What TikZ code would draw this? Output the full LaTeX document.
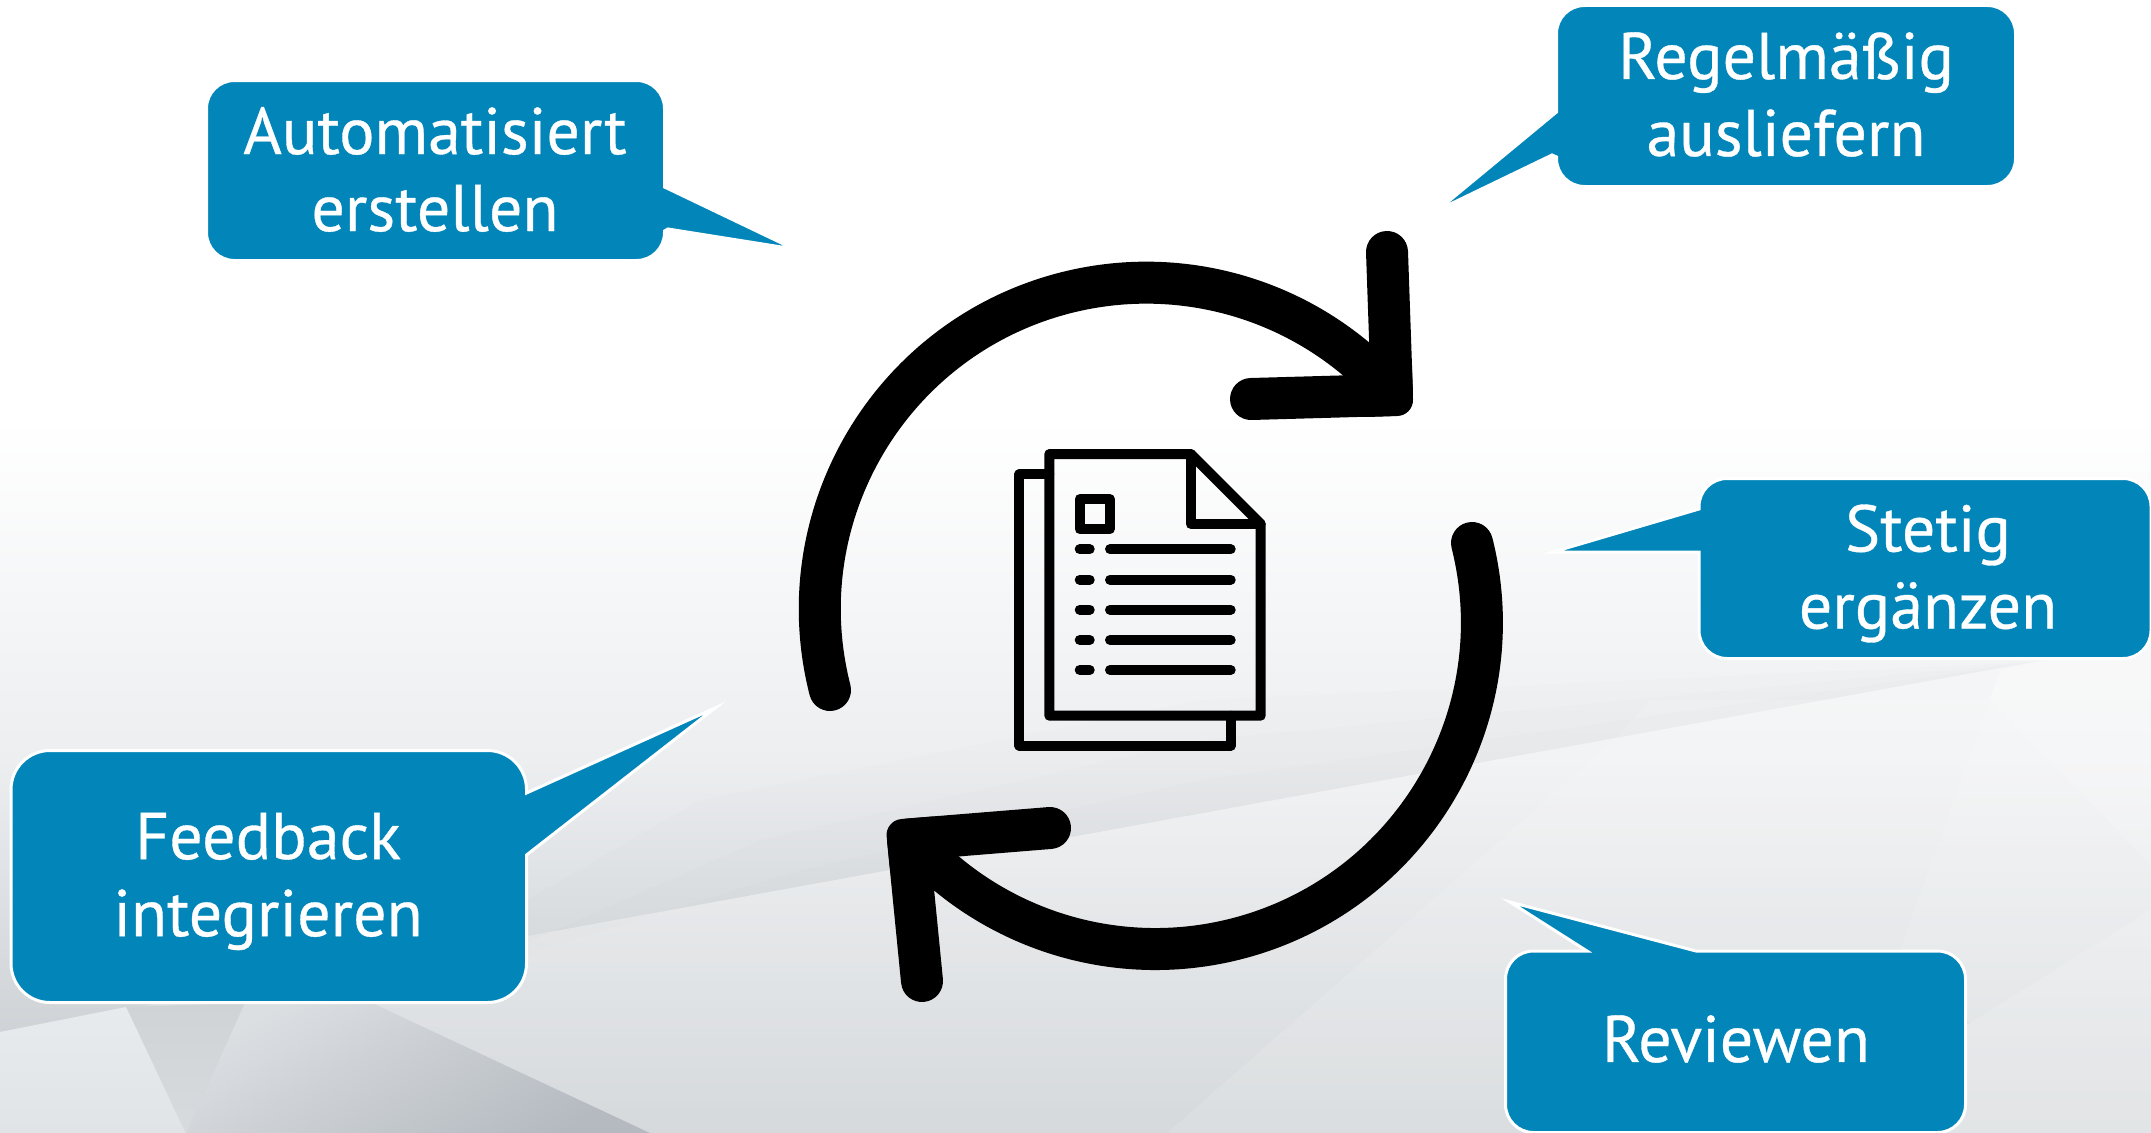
\documentclass[tikz,border=0pt]{standalone}
\usepackage{fontspec}
\setmainfont{PT Sans}[FakeBold=0.5]
\definecolor{cbox}{HTML}{0286BA}
\definecolor{bgmid}{HTML}{ECEEF0}
\definecolor{bgbot}{HTML}{C4C9CD}
\definecolor{fa}{HTML}{CFD3D6}
\definecolor{fb}{HTML}{D8DBDE}
\definecolor{fc}{HTML}{DCDFE2}
\definecolor{fd}{HTML}{B4BAC0}
\definecolor{fe}{HTML}{E8EBED}
\definecolor{ff}{HTML}{E0E4E7}
\tikzset{
  callout/.style={fill=cbox,draw=white,line width=3pt,line join=miter,miter limit=20},
  label/.style={text=white,align=center,inner sep=0pt,font=\fontsize{66}{77}\selectfont},
  loopline/.style={draw=black,line width=42pt,line cap=round,line join=round},
  headcorner/.style={draw=black,line width=32pt,line cap=round,line join=round},
  iconline/.style={draw=black,line width=10pt,line cap=round,line join=round},
  wfacet/.style={fill=white,draw=none},
  dfacet/.style={fill=black,draw=none}
}
\begin{document}
\begin{tikzpicture}[x=1pt,y=1pt,yscale=-1]
\useasboundingbox (0,0) rectangle (2151,1132);
% background
\fill[white] (0,0) rectangle (2151,421);
\shade[top color=white,bottom color=bgmid,draw=none] (0,420) rectangle (2151,761);
\shade[top color=bgmid,bottom color=bgbot,draw=none] (0,760) rectangle (2151,1134);
\fill[dfacet,opacity=.007] (2033,662) -- (1200,700) -- (700,800) -- (380,985) -- (0,1032) -- cycle;
\fill[dfacet,opacity=.007] (2033,662) -- (1200,740) -- (760,840) -- (420,990) -- (0,1032) -- cycle;
\fill[dfacet,opacity=.008] (2033,662) -- (1200,780) -- (800,870) -- (460,975) -- (0,1032) -- cycle;
\fill[wfacet,opacity=.3] (2033,662) -- (2151,640) -- (2151,1134) -- (0,1134) -- (0,1032) -- cycle;
\fill[wfacet,opacity=.12] (1166,1134) -- (1612,742) -- (1650,700) -- (1990,699) -- (1900,950) -- (1790,1134) -- cycle;
\fill[wfacet,opacity=.2] (1990,699) -- (2151,865) -- (2151,910) -- (1970,1023) -- (1900,950) -- cycle;
\fill[wfacet,opacity=.3] (2151,910) -- (1970,1023) -- (1790,1134) -- (2151,1134) -- cycle;
\fill[wfacet,opacity=.3] (2000,670) -- (2151,640) -- (2151,865) -- (1990,699) -- cycle;
\shade[top color=fa,bottom color=fb,draw=none] (126,1007) -- (245,1003) -- (186,1134) -- cycle;
\shade[top color=fc,bottom color=fd,shading angle=30,draw=none] (245,1003) -- (372,1003) -- (652,1134) -- (186,1134) -- cycle;
\shade[top color=fe,bottom color=ff,draw=none] (0,1032) -- (126,1007) -- (186,1134) -- (0,1134) -- cycle;
% loop arrows
\coordinate (aas) at (830,690);
\coordinate (aah) at (1387,252);
\coordinate (aat) at (1392,395);
\coordinate (aaf) at (1251,399);
\coordinate (aac) at (1397,400);
\coordinate (aac1) at (1396,370);
\coordinate (aac2) at (1367,401);
\coordinate (bbs) at (1472,543);
\coordinate (bbh) at (1050,828);
\coordinate (bbt) at (908,839.5);
\coordinate (bbf) at (922,981);
\coordinate (bbc) at (902.6,835);
\coordinate (bbc1) at (932.6,832.6);
\coordinate (bbc2) at (905.6,865);
\draw[loopline] (aas) arc[start angle=165.66,end angle=315,radius=326.5];
\draw[loopline] (aah) -- (aat) -- (aaf);
\draw[headcorner] (aac1) -- (aac) -- (aac2);
\draw[loopline] (bbs) arc[start angle=-14.1,end angle=135,radius=326.5];
\draw[loopline] (bbh) -- (bbt) -- (bbf);
\draw[headcorner] (bbc1) -- (bbc) -- (bbc2);
% document icon
\draw[iconline] (1049.3,474.3) -- (1019.3,474.3) -- (1019.3,745.7) -- (1230.7,745.7) -- (1230.7,715.7);
\draw[iconline] (1190.7,454) -- (1049.3,454) -- (1049.3,715.7) -- (1260.7,715.7) -- (1260.7,524) -- cycle;
\draw[iconline] (1190.7,454) -- (1190.7,524) -- (1260.7,524);
\draw[iconline] (1079.7,499) rectangle (1109.7,529.3);
\foreach \yy in {549.3,579.7,609.7,640,670}{
  \draw[iconline] (1079.7,\yy) -- (1089.7,\yy);
  \draw[iconline] (1110,\yy) -- (1230.7,\yy);
}
% callouts
\path[callout] (664.5,187) -- (794,249) -- (668,229) -- (664.5,231)
  [rounded corners=28] -- (664.5,260.5) -- (206.5,260.5) -- (206.5,80.5) -- (664.5,80.5) [sharp corners] -- cycle;
\node[label] (auto) at (435,169.5) {Automatisiert\\erstellen};
\path[callout] (1556.5,112) -- (1438,210) -- (1552,155) -- (1556.5,157)
  [rounded corners=28] -- (1556.5,186.5) -- (2015.5,186.5) -- (2015.5,5.5) -- (1556.5,5.5) [sharp corners] -- cycle;
\node[label] (regel) at (1786,94.5) {Regelmäßig\\ausliefern};
\path[callout] (1699,509) -- (1553,552) -- (1699,552)
  [rounded corners=28] -- (1699,658.5) -- (2151,658.5) -- (2151,478.5) -- (1699,478.5) [sharp corners] -- cycle;
\node[label] (stetig) at (1928,573.5) {Stetig\\ergänzen};
\path[callout] (526.5,793) -- (715,708) -- (526.5,855)
  [rounded corners=39] -- (526.5,1002.5) -- (11,1002.5) -- (11,750.5) -- (526.5,750.5) [sharp corners] -- cycle;
\node[label] (feed) at (268,881.5) {Feedback\\integrieren};
\path[callout] (1587,951) -- (1510,902) -- (1696,951)
  [rounded corners=28] -- (1965.5,951) -- (1965.5,1132.5) -- (1505.5,1132.5) -- (1505.5,951) [sharp corners] -- cycle;
\node[label] (rev) at (1736,1039) {Reviewen};
\end{tikzpicture}
\end{document}
